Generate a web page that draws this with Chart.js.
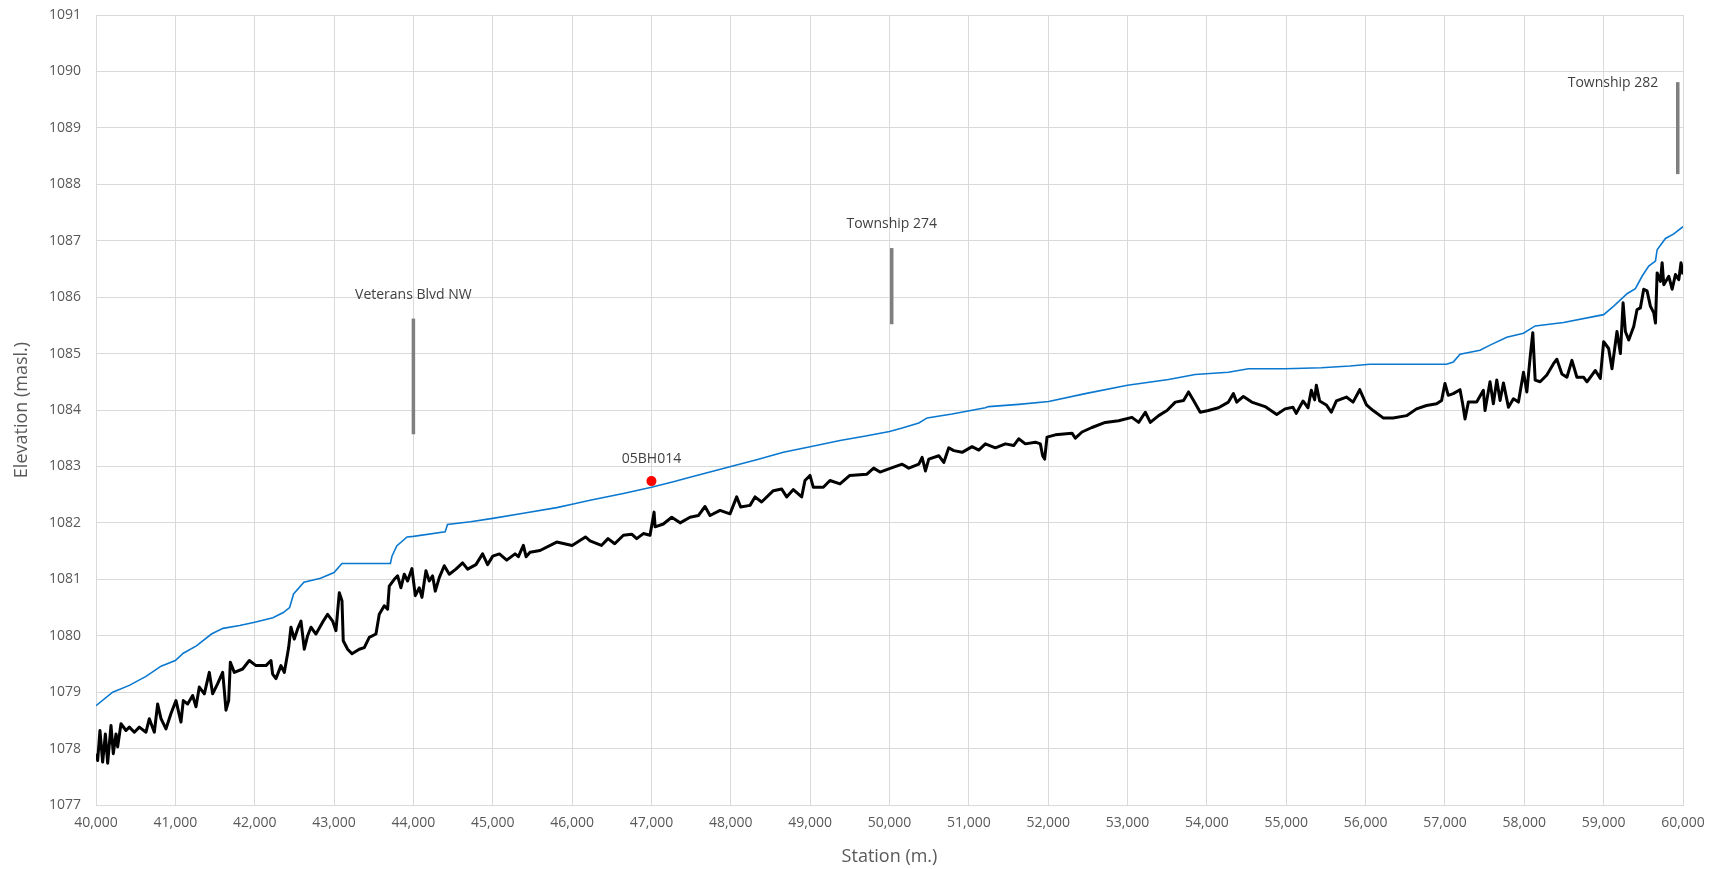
<!DOCTYPE html>
<html>
<head>
<meta charset="utf-8">
<title>Elevation profile</title>
<script src="https://cdn.jsdelivr.net/npm/chart.js@4.4.1/dist/chart.umd.min.js"></script>
<style>
    html, body { margin: 0; padding: 0; background: #ffffff; }
    #wrap { width: 1719px; height: 869px; position: relative; }
</style>
</head>
<body>
<div id="wrap"><canvas id="profile-chart"></canvas></div>
<script>
// Upper (blue) profile
const topStation = [40000, 40210, 40420, 40630, 40820, 41000, 41100, 41265, 41455, 41600, 41810, 42000,
    42230, 42360, 42440, 42490, 42620, 42830, 43000, 43100, 43710, 43730, 43790, 43920, 44000, 44400, 44430,
    44720, 45000, 45385, 45806, 46000, 46226, 46646, 47000, 47276, 47486, 48000, 48326, 48662, 49000, 49376,
    49700, 50000, 50160, 50370, 50474, 50789, 51208, 51250, 51628, 52006, 52467, 53000, 53516, 53852, 54271,
    54523, 54985, 55442, 55800, 56053, 57021, 57105, 57190, 57442, 57568, 57779, 57990, 58137, 58495, 59000,
    59127, 59295, 59400, 59484, 59568, 59653, 59674, 59779, 59884, 60000];
const topElev = [1078.76, 1079.0, 1079.12, 1079.28, 1079.46, 1079.56, 1079.69, 1079.82, 1080.03, 1080.13, 1080.18, 1080.24,
    1080.32, 1080.41, 1080.5, 1080.74, 1080.95, 1081.02, 1081.12, 1081.28, 1081.28, 1081.41, 1081.59, 1081.75, 1081.76, 1081.84, 1081.97,
    1082.02, 1082.08, 1082.17, 1082.27, 1082.33, 1082.40, 1082.52, 1082.63, 1082.73, 1082.81, 1083.0, 1083.12, 1083.25, 1083.35, 1083.46,
    1083.54, 1083.62, 1083.68, 1083.77, 1083.86, 1083.93, 1084.04, 1084.06, 1084.10, 1084.15, 1084.29, 1084.44, 1084.54, 1084.63, 1084.67,
    1084.73, 1084.73, 1084.75, 1084.78, 1084.81, 1084.81, 1084.85, 1084.99, 1085.06, 1085.15, 1085.29, 1085.36, 1085.49, 1085.55, 1085.69,
    1085.84, 1086.06, 1086.15, 1086.37, 1086.55, 1086.64, 1086.84, 1087.04, 1087.12, 1087.25];

// Ground (black) profile
const groundStation = [40000, 40021, 40050, 40084, 40118, 40147, 40189, 40218, 40252, 40273, 40315, 40378, 40420, 40483,
    40546, 40630, 40672, 40735, 40777, 40819, 40882, 40945, 41008, 41071, 41100, 41155, 41218, 41260, 41302, 41365,
    41428, 41470, 41533, 41596, 41617, 41638, 41672, 41693, 41743, 41848, 41932, 42016, 42142, 42205, 42226, 42268,
    42331, 42373, 42428, 42457, 42499, 42541, 42583, 42625, 42667, 42709, 42772, 42856, 42919, 42982, 43024, 43066,
    43100, 43116, 43171, 43226, 43318, 43381, 43444, 43528, 43570, 43633, 43675, 43696, 43759, 43801, 43843, 43885,
    43927, 43982, 44024, 44074, 44108, 44158, 44200, 44242, 44276, 44326, 44389, 44452, 44536, 44620, 44683, 44788,
    44872, 44935, 45000, 45084, 45176, 45281, 45323, 45386, 45420, 45470, 45596, 45806, 46000, 46168, 46226, 46369,
    46453, 46537, 46646, 46751, 46814, 46898, 46982, 47033, 47046, 47150, 47256, 47361, 47486, 47591, 47675, 47738,
    47864, 47990, 48074, 48124, 48242, 48305, 48388, 48536, 48641, 48704, 48788, 48893, 48935, 48998, 49040, 49166,
    49250, 49376, 49500, 49712, 49800, 49880, 50000, 50160, 50243, 50370, 50411, 50453, 50495, 50621, 50684, 50747,
    50810, 50915, 51041, 51125, 51208, 51334, 51460, 51565, 51628, 51712, 51838, 51901, 51930, 51955, 51985, 52090,
    52300, 52342, 52426, 52551, 52719, 52887, 53055, 53140, 53224, 53287, 53392, 53497, 53602, 53706, 53769, 53832,
    53916, 54020, 54146, 54271, 54334, 54376, 54460, 54565, 54733, 54880, 54985, 55084, 55126, 55211, 55274, 55316,
    55358, 55379, 55421, 55505, 55568, 55632, 55758, 55842, 55926, 56011, 56095, 56221, 56347, 56516, 56642, 56768,
    56895, 56958, 57000, 57042, 57105, 57190, 57223, 57253, 57295, 57400, 57484, 57505, 57568, 57610, 57653, 57695,
    57737, 57800, 57863, 57926, 57990, 58032, 58074, 58107, 58137, 58200, 58284, 58368, 58410, 58474, 58537, 58600,
    58663, 58747, 58790, 58895, 58958, 59000, 59063, 59105, 59168, 59211, 59245, 59274, 59316, 59379, 59421, 59463,
    59505, 59547, 59589, 59632, 59653, 59674, 59716, 59737, 59758, 59821, 59863, 59905, 59947, 59975, 60000];
const groundElev = [1077.91, 1077.79, 1078.32, 1077.76, 1078.26, 1077.74, 1078.41, 1077.91, 1078.26, 1078.03, 1078.44, 1078.32, 1078.38, 1078.29,
    1078.38, 1078.29, 1078.53, 1078.29, 1078.79, 1078.53, 1078.35, 1078.62, 1078.85, 1078.47, 1078.85, 1078.79, 1078.94, 1078.74, 1079.09, 1078.97,
    1079.35, 1078.97, 1079.15, 1079.35, 1079.03, 1078.68, 1078.85, 1079.53, 1079.35, 1079.41, 1079.56, 1079.47, 1079.47, 1079.56, 1079.32, 1079.24,
    1079.47, 1079.35, 1079.79, 1080.15, 1079.94, 1080.12, 1080.26, 1079.76, 1080.00, 1080.15, 1080.03, 1080.24, 1080.38, 1080.26, 1080.09, 1080.76,
    1080.62, 1079.91, 1079.76, 1079.68, 1079.76, 1079.79, 1079.97, 1080.03, 1080.38, 1080.53, 1080.47, 1080.88, 1081.00, 1081.06, 1080.85, 1081.09,
    1080.97, 1081.19, 1080.71, 1080.85, 1080.68, 1081.15, 1080.97, 1081.06, 1080.79, 1081.03, 1081.24, 1081.09, 1081.18, 1081.29, 1081.18, 1081.26,
    1081.45, 1081.26, 1081.41, 1081.45, 1081.34, 1081.45, 1081.40, 1081.60, 1081.40, 1081.48, 1081.51, 1081.66, 1081.60, 1081.75, 1081.68, 1081.60,
    1081.72, 1081.63, 1081.78, 1081.80, 1081.72, 1081.81, 1081.78, 1082.19, 1081.93, 1081.98, 1082.10, 1082.00, 1082.10, 1082.13, 1082.29, 1082.13,
    1082.22, 1082.16, 1082.46, 1082.28, 1082.31, 1082.46, 1082.37, 1082.57, 1082.60, 1082.46, 1082.59, 1082.46, 1082.75, 1082.84, 1082.63, 1082.63,
    1082.75, 1082.69, 1082.84, 1082.86, 1082.97, 1082.90, 1082.96, 1083.04, 1082.97, 1083.04, 1083.16, 1082.92, 1083.13, 1083.19, 1083.07, 1083.33,
    1083.28, 1083.25, 1083.35, 1083.29, 1083.40, 1083.33, 1083.40, 1083.37, 1083.49, 1083.40, 1083.43, 1083.40, 1083.19, 1083.13, 1083.52, 1083.56,
    1083.59, 1083.50, 1083.61, 1083.69, 1083.78, 1083.81, 1083.87, 1083.78, 1083.96, 1083.78, 1083.90, 1083.99, 1084.14, 1084.17, 1084.32, 1084.17,
    1083.96, 1083.99, 1084.04, 1084.14, 1084.29, 1084.14, 1084.24, 1084.14, 1084.06, 1083.92, 1084.02, 1084.05, 1083.94, 1084.16, 1084.04, 1084.35,
    1084.18, 1084.44, 1084.16, 1084.09, 1083.96, 1084.16, 1084.23, 1084.14, 1084.36, 1084.09, 1083.99, 1083.86, 1083.86, 1083.90, 1084.02, 1084.08,
    1084.11, 1084.17, 1084.47, 1084.26, 1084.29, 1084.36, 1084.11, 1083.84, 1084.14, 1084.14, 1084.35, 1083.99, 1084.50, 1084.11, 1084.53, 1084.17,
    1084.48, 1084.05, 1084.20, 1084.14, 1084.67, 1084.32, 1084.94, 1085.37, 1084.53, 1084.50, 1084.62, 1084.82, 1084.90, 1084.64, 1084.58, 1084.88,
    1084.58, 1084.58, 1084.50, 1084.70, 1084.56, 1085.21, 1085.09, 1084.73, 1085.39, 1085.00, 1085.90, 1085.39, 1085.24, 1085.48, 1085.78, 1085.81,
    1086.14, 1086.11, 1085.84, 1085.72, 1085.54, 1086.43, 1086.28, 1086.61, 1086.22, 1086.37, 1086.14, 1086.40, 1086.31, 1086.61, 1086.40];

// Road crossings: vertical marker bars and their captions
const roadNames = ['Veterans Blvd NW', 'Township 274', 'Township 282'];
const roadStation = [44000, 50028, 59934];
const roadBarLow = [1083.57, 1085.52, 1088.18];
const roadBarHigh = [1085.62, 1086.87, 1089.81];
const roadLabelStation = [44000, 50028, 59118];
const roadLabelElev = [1086.03, 1087.29, 1089.80];

// Borehole
const boreholeName = '05BH014';
const boreholeStation = [47000];
const boreholeElev = [1082.74];
const boreholeLabelElev = 1083.13;

const toPoints = (xs, ys) => xs.map((x, i) => ({x: x, y: ys[i]}));

const roadDatasets = roadStation.map((st, i) => ({
    label: roadNames[i],
    data: [{x: st, y: roadBarLow[i]}, {x: st, y: roadBarHigh[i]}],
    borderColor: '#7f7f7f',
    borderWidth: 3.5,
    pointRadius: 0,
    showLine: true
}));

// Captions drawn in data coordinates through the scales
const captionPlugin = {
    id: 'captions',
    afterDatasetsDraw(chart) {
        const {ctx, scales} = chart;
        ctx.save();
        ctx.font = '14px "Open Sans", sans-serif';
        ctx.fillStyle = '#404040';
        ctx.textAlign = 'center';
        ctx.textBaseline = 'middle';
        roadNames.forEach((name, i) => {
            ctx.fillText(name, scales.x.getPixelForValue(roadLabelStation[i]), scales.y.getPixelForValue(roadLabelElev[i]));
        });
        ctx.fillText(boreholeName, scales.x.getPixelForValue(boreholeStation[0]), scales.y.getPixelForValue(boreholeLabelElev));
        ctx.restore();
    }
};

const tickFont = {family: '"Open Sans", sans-serif', size: 14};
const titleFont = {family: '"Open Sans", sans-serif', size: 18};

new Chart(document.getElementById('profile-chart'), {
    type: 'scatter',
    data: {
        datasets: [
            {
                label: 'Ground',
                data: toPoints(groundStation, groundElev),
                borderColor: '#000000',
                borderWidth: 3,
                pointRadius: 0,
                showLine: true,
                borderJoinStyle: 'round'
            },
            {
                label: 'Profile',
                data: toPoints(topStation, topElev),
                borderColor: '#0b78cf',
                borderWidth: 1.6,
                pointRadius: 0,
                showLine: true
            },
            ...roadDatasets,
            {
                label: boreholeName,
                data: toPoints(boreholeStation, boreholeElev),
                backgroundColor: '#ff0000',
                borderWidth: 0,
                pointRadius: 5,
                showLine: false
            }
        ]
    },
    options: {
        responsive: true,
        maintainAspectRatio: false,
        animation: false,
        devicePixelRatio: 1,
        layout: {padding: {top: 15, right: 36, left: 0, bottom: 0}},
        plugins: {
            legend: {display: false},
            tooltip: {enabled: false}
        },
        scales: {
            x: {
                type: 'linear',
                min: 40000,
                max: 60000,
                ticks: {
                    stepSize: 1000,
                    color: '#595959',
                    font: tickFont,
                    padding: 10,
                    maxRotation: 0,
                    callback: v => v.toLocaleString('en-US')
                },
                grid: {color: '#d9d9d9', lineWidth: 1, drawTicks: false},
                border: {color: '#d9d9d9'},
                title: {display: true, text: 'Station (m.)', color: '#595959', font: titleFont, padding: {top: 0, bottom: 1}},
                afterFit: scale => { scale.height = 64; scale.paddingLeft = 0; scale.paddingRight = 0; }
            },
            y: {
                type: 'linear',
                min: 1077,
                max: 1091,
                ticks: {
                    stepSize: 1,
                    color: '#595959',
                    font: tickFont,
                    padding: 15,
                    callback: v => String(v)
                },
                grid: {color: '#d9d9d9', lineWidth: 1, drawTicks: false},
                border: {color: '#d9d9d9'},
                title: {display: true, text: 'Elevation (masl.)', color: '#595959', font: titleFont, padding: {top: 11, bottom: 0}},
                afterFit: scale => { scale.width = 96; scale.paddingTop = 0; scale.paddingBottom = 0; }
            }
        }
    },
    plugins: [captionPlugin]
});
</script>
</body>
</html>
